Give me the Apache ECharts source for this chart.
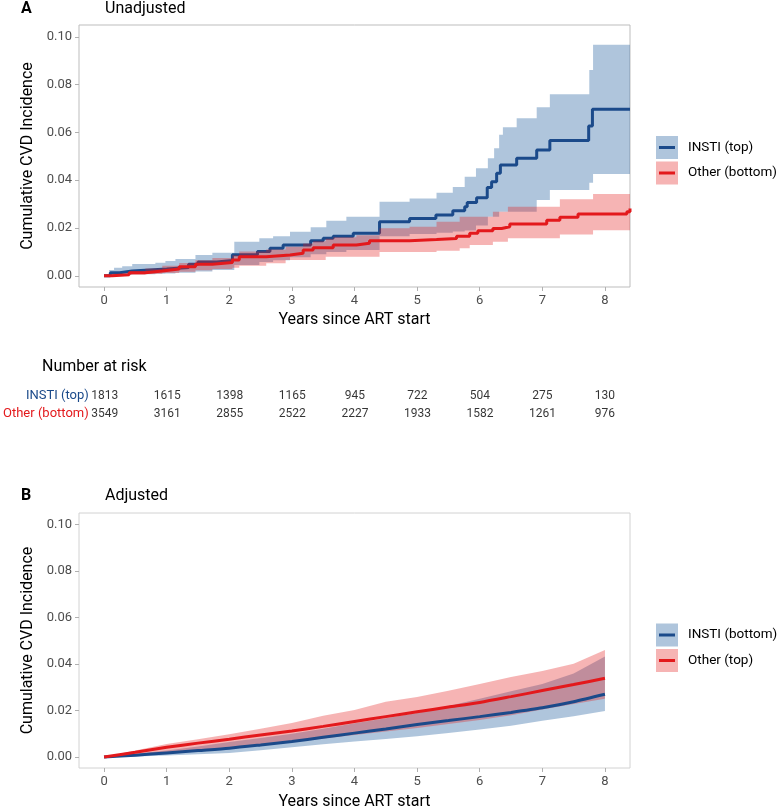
<!DOCTYPE html>
<html lang="en">
<head>
<meta charset="UTF-8">
<title>Cumulative CVD incidence</title>
<style>
  html, body { margin: 0; padding: 0; background: #fff; }
  #main { width: 777px; height: 811px; }
</style>
</head>
<body>
<div id="main"></div>
<script src="https://cdn.jsdelivr.net/npm/echarts@6/dist/echarts.min.js"></script>
<script>
// ---- panel A (unadjusted), step estimates ----
var instiTime = [0, 0.1, 0.25, 0.45, 1.0, 1.35, 1.5, 1.8, 2.05, 2.45, 2.65, 2.86, 3.3, 3.5, 3.66, 3.98, 4.4, 4.88, 5.3, 5.57, 5.76, 5.8, 5.95, 6.12, 6.19, 6.27, 6.33, 6.59, 6.91, 7.12, 7.74, 7.8, 8.4];
var instiEst = [0, 0.0013, 0.002, 0.0028, 0.0035, 0.0048, 0.0058, 0.0064, 0.0088, 0.0102, 0.0115, 0.0129, 0.0147, 0.0157, 0.0166, 0.0178, 0.0226, 0.024, 0.0254, 0.0272, 0.0289, 0.0307, 0.0327, 0.037, 0.0394, 0.0429, 0.0464, 0.0492, 0.0527, 0.0566, 0.0627, 0.0697, 0.0697];

var instiBandTime = [0, 0.08, 0.16, 0.29, 0.45, 0.82, 0.98, 1.14, 1.46, 1.73, 2.08, 2.48, 2.7, 2.97, 3.3, 3.55, 3.87, 4.4, 4.88, 5.31, 5.57, 5.76, 5.94, 6.13, 6.23, 6.31, 6.37, 6.59, 6.91, 7.12, 7.75, 7.81, 8.4];
var instiLower = [0, 0, 0.0002, 0.0004, 0.0006, 0.0008, 0.001, 0.0013, 0.0018, 0.0024, 0.0045, 0.0058, 0.0065, 0.0078, 0.009, 0.01, 0.0108, 0.0165, 0.0175, 0.018, 0.0185, 0.019, 0.021, 0.0247, 0.0247, 0.0268, 0.0268, 0.0268, 0.0317, 0.0359, 0.039, 0.0426, 0.0426];
var instiUpper = [0.0005, 0.0024, 0.0034, 0.004, 0.0049, 0.0055, 0.0062, 0.007, 0.0087, 0.0096, 0.0142, 0.0157, 0.0166, 0.0184, 0.0203, 0.023, 0.0247, 0.031, 0.0324, 0.0348, 0.0372, 0.0415, 0.045, 0.0492, 0.0534, 0.059, 0.0622, 0.066, 0.0706, 0.076, 0.0862, 0.0967, 0.0967];

var otherTime = [0, 0.13, 0.4, 0.66, 0.93, 1.2, 1.46, 1.73, 2.05, 2.16, 2.59, 2.97, 3.18, 3.34, 3.66, 4.03, 4.24, 4.88, 5.31, 5.63, 5.84, 5.97, 6.21, 6.35, 6.48, 7.07, 7.28, 7.57, 8.35, 8.4];
var otherEst = [0, 0.0004, 0.0013, 0.002, 0.0028, 0.0038, 0.0048, 0.0056, 0.0066, 0.008, 0.0087, 0.0094, 0.0108, 0.0117, 0.0129, 0.0136, 0.0147, 0.0152, 0.0156, 0.0166, 0.0178, 0.0189, 0.0198, 0.0205, 0.0217, 0.0233, 0.0245, 0.0259, 0.0268, 0.0282];

var otherBandTime = [0, 0.13, 0.4, 0.66, 0.93, 1.2, 1.46, 1.73, 2.05, 2.16, 2.59, 2.9, 3.18, 3.34, 3.54, 3.66, 4.03, 4.4, 4.88, 5.31, 5.68, 5.84, 6.21, 6.45, 7.28, 7.81, 8.4];
var otherLower = [0, 0, 0.0004, 0.0008, 0.0012, 0.0017, 0.0023, 0.0028, 0.0034, 0.0042, 0.0052, 0.0066, 0.0066, 0.0066, 0.008, 0.008, 0.008, 0.01, 0.01, 0.0105, 0.0115, 0.0129, 0.0142, 0.0157, 0.0173, 0.0191, 0.0191];
var otherUpper = [0, 0.0008, 0.002, 0.003, 0.0042, 0.0053, 0.0065, 0.0074, 0.0086, 0.0102, 0.011, 0.0122, 0.0135, 0.0145, 0.0155, 0.0161, 0.017, 0.0199, 0.0205, 0.0226, 0.0247, 0.0247, 0.0268, 0.0289, 0.032, 0.0342, 0.0355];

// ---- number at risk ----
var riskTime = [0, 1, 2, 3, 4, 5, 6, 7, 8];
var riskInsti = [1813, 1615, 1398, 1165, 945, 722, 504, 275, 130];
var riskOther = [3549, 3161, 2855, 2522, 2227, 1933, 1582, 1261, 976];
var riskRows = ['Other (bottom)', 'INSTI (top)'];

// ---- panel B (adjusted), smooth curves ----
var adjTime = [0, 0.5, 1, 1.5, 2, 2.5, 3, 3.5, 4, 4.5, 5, 5.5, 6, 6.5, 7, 7.5, 8];
var adjInstiEst = [0, 0.0008, 0.0018, 0.0028, 0.0038, 0.0052, 0.0067, 0.0085, 0.0103, 0.0121, 0.014, 0.0157, 0.0174, 0.0192, 0.0212, 0.0238, 0.027];
var adjInstiLower = [0, 0.0003, 0.0007, 0.0012, 0.0018, 0.0029, 0.0042, 0.0055, 0.0067, 0.0078, 0.009, 0.0104, 0.0119, 0.0135, 0.0156, 0.0176, 0.0198];
var adjInstiUpper = [0, 0.0014, 0.0028, 0.0046, 0.0065, 0.0082, 0.01, 0.0122, 0.0145, 0.0167, 0.019, 0.022, 0.0251, 0.0283, 0.0314, 0.036, 0.0433];
var adjOtherEst = [0, 0.0021, 0.0042, 0.006, 0.0077, 0.0095, 0.0112, 0.0132, 0.0153, 0.0174, 0.0195, 0.0215, 0.0235, 0.026, 0.0286, 0.0312, 0.0339];
var adjOtherLower = [0, 0.001, 0.002, 0.003, 0.004, 0.0052, 0.0065, 0.008, 0.0095, 0.011, 0.0125, 0.0142, 0.016, 0.018, 0.0205, 0.0228, 0.0251];
var adjOtherUpper = [0, 0.0028, 0.0056, 0.0077, 0.0098, 0.0122, 0.0147, 0.0178, 0.0202, 0.0238, 0.0258, 0.0285, 0.0314, 0.0345, 0.037, 0.0402, 0.0461];

var yTicks = [0, 0.02, 0.04, 0.06, 0.08, 0.1];
var xTicks = [0, 1, 2, 3, 4, 5, 6, 7, 8];

var BLUE = '#1b4a8a';
var RED = '#e3191c';
var BLUE_FILL = 'rgba(38,97,160,0.37)';
var RED_FILL = 'rgba(228,26,28,0.33)';
var FONT = 'Roboto';

var chart = echarts.init(document.getElementById('main'));

function pairs(t, v) {
    return t.map(function (x, i) { return [x, v[i]]; });
}

// confidence band drawn as one polygon through the axis scales
function band(idx, time, lower, upper, fill, stepped, z) {
    return {
        type: 'custom',
        xAxisIndex: idx,
        yAxisIndex: idx,
        silent: true,
        z: z,
        data: [[time[0], lower[0]]],
        renderItem: function (params, api) {
            var top = [], bottom = [];
            for (var i = 0; i < time.length; i++) {
                top.push(api.coord([time[i], upper[i]]));
                bottom.push(api.coord([time[i], lower[i]]));
                if (stepped && i + 1 < time.length) {
                    top.push(api.coord([time[i + 1], upper[i]]));
                    bottom.push(api.coord([time[i + 1], lower[i]]));
                }
            }
            return {
                type: 'polygon',
                shape: { points: top.concat(bottom.reverse()) },
                style: { fill: fill, stroke: null }
            };
        }
    };
}

function curve(idx, time, est, color, stepped, z) {
    return {
        type: 'line',
        xAxisIndex: idx,
        yAxisIndex: idx,
        data: pairs(time, est),
        step: stepped ? 'end' : false,
        smooth: stepped ? false : 0.25,
        symbol: 'none',
        silent: true,
        z: z,
        lineStyle: { color: color, width: 3 }
    };
}

function xAxisFor(idx, gap) {
    return {
        type: 'value', gridIndex: idx, min: -0.4, max: 8.4,
        name: 'Years since ART start', nameLocation: 'middle', nameGap: gap,
        nameTextStyle: { fontFamily: FONT, fontSize: 16, color: '#000' },
        axisLine: { show: false, onZero: false },
        axisTick: { show: true, length: 4, lineStyle: { color: '#b0b0b0' }, customValues: xTicks },
        axisLabel: { fontFamily: FONT, fontSize: 13, color: '#4d4d4d', margin: 7, customValues: xTicks },
        splitLine: { show: false }
    };
}

function yAxisFor(idx) {
    return {
        type: 'value', gridIndex: idx, min: -0.0047, max: 0.105,
        name: 'Cumulative CVD Incidence', nameLocation: 'middle', nameGap: 43,
        nameTextStyle: { fontFamily: FONT, fontSize: 16, color: '#000' },
        axisLine: { show: false, onZero: false },
        axisTick: { show: true, length: 4, lineStyle: { color: '#b0b0b0' }, customValues: yTicks },
        axisLabel: {
            fontFamily: FONT, fontSize: 13, color: '#4d4d4d', margin: 7, customValues: yTicks,
            formatter: function (v) { return v.toFixed(2); }
        },
        splitLine: { show: false }
    };
}

function riskSeries(row, counts) {
    return {
        type: 'scatter',
        xAxisIndex: 2,
        yAxisIndex: 2,
        symbolSize: 0,
        silent: true,
        data: riskTime.map(function (t, i) { return [t, row, counts[i]]; }),
        label: {
            show: true, position: 'inside',
            fontFamily: FONT, fontSize: 12, color: '#000',
            formatter: function (p) { return String(p.value[2]); }
        }
    };
}

function legendKey(y, fill, line, text) {
    return [
        { type: 'rect', shape: { x: 656, y: y, width: 22, height: 23 }, style: { fill: fill } },
        { type: 'line', shape: { x1: 659, y1: y + 11.5, x2: 675, y2: y + 11.5 }, style: { stroke: line, lineWidth: 3 } },
        { type: 'text', x: 688, y: y + 11.5, style: { text: text, fontFamily: FONT, fontSize: 13.5, fill: '#000', verticalAlign: 'middle' } }
    ];
}

var titleStyle = { fontFamily: FONT, fontSize: 16, fill: '#000', verticalAlign: 'middle' };

var option = {
    animation: false,
    backgroundColor: '#fff',
    grid: [
        { left: 79, top: 25, right: 147, height: 262, show: true, borderColor: '#bdbdbd', borderWidth: 1, backgroundColor: 'transparent' },
        { left: 79, top: 513, right: 147, height: 261, show: true, borderColor: '#d2d2d2', borderWidth: 1, backgroundColor: 'transparent' },
        { left: 79, top: 387, right: 147, height: 36, show: false }
    ],
    xAxis: [
        xAxisFor(0, 25),
        xAxisFor(1, 26),
        { type: 'value', gridIndex: 2, min: -0.4, max: 8.4, show: false }
    ],
    yAxis: [
        yAxisFor(0),
        yAxisFor(1),
        {
            type: 'category', gridIndex: 2, data: riskRows,
            axisLine: { show: false }, axisTick: { show: false }, splitLine: { show: false },
            axisLabel: {
                fontFamily: FONT, fontSize: 13, margin: -9,
                color: function (v) { return v.indexOf('INSTI') === 0 ? BLUE : RED; }
            }
        }
    ],
    series: [
        // panel A: red band is laid over the blue curve
        band(0, instiBandTime, instiLower, instiUpper, BLUE_FILL, true, 2),
        curve(0, instiTime, instiEst, BLUE, true, 3),
        band(0, otherBandTime, otherLower, otherUpper, RED_FILL, true, 4),
        curve(0, otherTime, otherEst, RED, true, 5),
        // panel B: both bands first, then both curves
        band(1, adjTime, adjInstiLower, adjInstiUpper, BLUE_FILL, false, 2),
        band(1, adjTime, adjOtherLower, adjOtherUpper, RED_FILL, false, 3),
        curve(1, adjTime, adjInstiEst, BLUE, false, 4),
        curve(1, adjTime, adjOtherEst, RED, false, 5),
        riskSeries('INSTI (top)', riskInsti),
        riskSeries('Other (bottom)', riskOther)
    ],
    graphic: [
        { type: 'text', x: 21, y: 9, style: Object.assign({ text: 'A', fontWeight: 'bold' }, titleStyle) },
        { type: 'text', x: 105, y: 9, style: Object.assign({ text: 'Unadjusted' }, titleStyle) },
        { type: 'text', x: 42, y: 367, style: Object.assign({ text: 'Number at risk' }, titleStyle) },
        { type: 'text', x: 21, y: 496, style: Object.assign({ text: 'B', fontWeight: 'bold' }, titleStyle) },
        { type: 'text', x: 105, y: 496, style: Object.assign({ text: 'Adjusted' }, titleStyle) }
    ]
        .concat(legendKey(136, BLUE_FILL, BLUE, 'INSTI (top)'))
        .concat(legendKey(161.5, RED_FILL, RED, 'Other (bottom)'))
        .concat(legendKey(623.5, BLUE_FILL, BLUE, 'INSTI (bottom)'))
        .concat(legendKey(649, RED_FILL, RED, 'Other (top)'))
};

chart.setOption(option);
</script>
</body>
</html>
